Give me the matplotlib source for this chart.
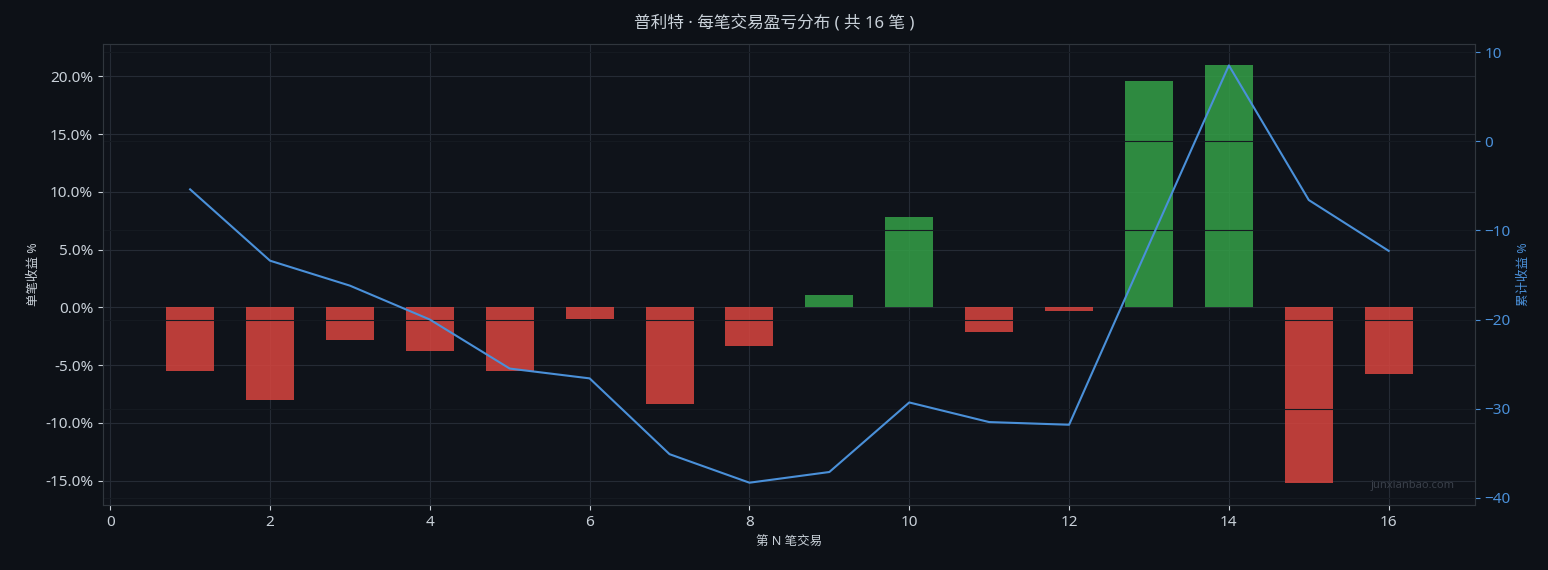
import matplotlib
matplotlib.use("Agg")
import matplotlib.pyplot as plt
from matplotlib.ticker import FuncFormatter

plt.rcParams['font.family'] = ['Noto Sans', 'Noto Sans CJK SC', 'DejaVu Sans']

trade_no = list(range(1, 17))
trade_ret = [-5.5, -8.0, -2.8, -3.8, -5.5, -1.0, -8.4, -3.3, 1.1, 7.8, -2.1, -0.3, 19.6, 21.0, -15.2, -5.8]
cum_ret = [-5.4, -13.4, -16.2, -20.0, -25.5, -26.6, -35.1, -38.3, -37.1, -29.3, -31.5, -31.8, -11.6, 8.5, -6.6, -12.3]

bg = '#0d1117'
txt = '#c9d1d9'
blue = '#4a90d9'

fig = plt.figure(figsize=(15.48, 5.7), dpi=100, facecolor=bg)
ax = fig.add_axes([103/1548, 65/570, (1475-103)/1548, (505-44)/570])
ax.set_facecolor('#0f131a')
colors = ['#34a047' if v > 0 else '#d9453f' for v in trade_ret]
ax.bar(trade_no, trade_ret, width=0.6, color=colors, alpha=0.85, zorder=2)
ax.set_xlim(-0.09, 17.08)
ax.set_ylim(-17.1, 22.8)
ax.yaxis.set_major_formatter(FuncFormatter(lambda v, p: f'{v:.1f}%'))
ax.set_yticks([-15, -10, -5, 0, 5, 10, 15, 20])
ax.set_xticks(range(0, 17, 2))
ax.grid(True, color='#252b35', linewidth=0.8, zorder=0)
ax.set_axisbelow(True)
ax.set_xlabel('第 N 笔交易', color=txt, fontsize=9)
ax.set_ylabel('单笔收益 %', color=txt, fontsize=9)
ax.tick_params(colors=txt, labelsize=11)
for s in ax.spines.values():
    s.set_color('#30363d')

ax2 = ax.twinx()
ax2.plot(trade_no, cum_ret, color=blue, linewidth=1.5, zorder=3)
ax2.set_ylim(-40.8, 10.9)
ax2.set_yticks([-40, -30, -20, -10, 0, 10])
ax2.set_xticks(range(0, 17, 2))
ax2.grid(True, color='#151a21', linewidth=0.8)
ax2.set_ylabel('累计收益 %', color=blue, fontsize=9)
ax2.tick_params(colors=blue, labelsize=11)
for s in ax2.spines.values():
    s.set_color('#30363d')

fig.suptitle('普利特 · 每笔交易盈亏分布 ( 共 16 笔 )', color=txt, fontsize=12, y=0.975)
ax.text(0.985, 0.03, 'junxianbao.com', transform=ax.transAxes, ha='right', va='bottom',
        color='#3a404a', fontsize=8)

fig.savefig('out.png', dpi=100, facecolor=bg)
